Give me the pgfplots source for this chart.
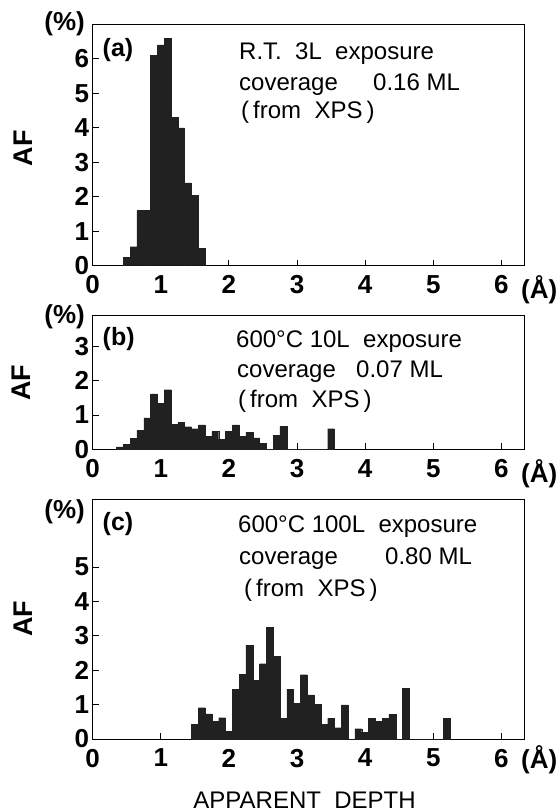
\documentclass[border=0pt]{standalone}
\usepackage{pgfplots}
\pgfplotsset{compat=1.18}
\usepackage{fontspec}
\setmainfont{Liberation Sans}

\newcommand{\tk}{\fontsize{26}{28}\selectfont\bfseries}
\newcommand{\an}{\fontsize{24}{26}\selectfont}

\pgfplotsset{
  panel/.style={
    scale only axis, anchor=south west, width=431.8pt,
    xmin=0, xmax=6.34, ymin=0,
    xtick={0,1,...,6},
    tick align=inside, tick pos=left,
    major tick length=6pt,
    axis line style={line width=1pt},
    every tick/.style={black, line width=1pt},
    ticklabel style={font=\tk},
    /pgf/number format/assume math mode=true,
    xticklabel style={yshift=-6.5pt},
  },
  bars/.style={ybar interval, fill=black!87, draw=black!87, line width=0.3pt},
}

\begin{document}
\begin{tikzpicture}
\useasboundingbox (0,0) rectangle (560pt,812pt);

% (a) R.T. 3L
\begin{axis}[panel, at={(92.7pt,546.3pt)}, height=241.4pt, ymax=7, ytick={0,...,6}]
\addplot[bars] coordinates {
(0.45,0.25) (0.55,0.55) (0.65,1.6) (0.75,1.6) (0.85,6.1) (0.95,6.4)
(1.05,6.6) (1.15,4.3) (1.25,4.0) (1.35,2.4) (1.45,2.05) (1.55,0.5) (1.65,0)
};
\end{axis}

% (b) 600C 10L
\begin{axis}[panel, at={(92.7pt,362.7pt)}, height=133.3pt, ymax=3.89, ytick={0,...,3}]
\addplot[bars] coordinates {
(0.35,0.07) (0.45,0.15) (0.55,0.32) (0.65,0.55) (0.75,0.92) (0.85,1.62)
(0.95,1.34) (1.05,1.74) (1.15,0.72) (1.25,0.79) (1.35,0.66) (1.45,0.60)
(1.55,0.71) (1.65,0.38) (1.75,0.52) (1.85,0.30) (1.95,0.52) (2.05,0.71)
(2.15,0.38) (2.25,0.50) (2.35,0.33) (2.45,0.18) (2.55,0) (2.65,0.40)
(2.75,0.67) (2.85,0) (2.95,0) (3.05,0) (3.15,0) (3.25,0) (3.35,0)
(3.45,0.60) (3.55,0)
};
\end{axis}

% (c) 600C 100L
\begin{axis}[panel, at={(92.7pt,73pt)}, height=239pt, ymax=6.95, ytick={0,...,5}]
\addplot[bars] coordinates {
(1.45,0.43) (1.55,0.91) (1.65,0.73) (1.75,0.52) (1.85,0.62) (1.95,0.22)
(2.05,1.45) (2.15,1.89) (2.25,2.73) (2.35,1.70) (2.45,2.19) (2.55,3.25)
(2.65,2.40) (2.75,0.60) (2.85,1.45) (2.95,1.04) (3.05,1.87) (3.15,1.28)
(3.25,1.00) (3.35,0.43) (3.45,0.60) (3.55,0.33) (3.65,0.99) (3.75,0)
(3.85,0.30) (3.95,0.20) (4.05,0.60) (4.15,0.51) (4.25,0.60) (4.35,0.72)
(4.45,0) (4.55,1.47) (4.65,0) (4.75,0) (4.85,0) (4.95,0) (5.05,0)
(5.15,0.60) (5.25,0)
};
\end{axis}

\begin{scope}[every node/.style={inner sep=0pt}]
% labels for (a)
\node[anchor=east, font=\tk] at (85pt,788pt) {(\%)};
\node[anchor=base west, font=\fontsize{25}{27}\selectfont\bfseries] at (102.5pt,755pt) {(a)};
\node[anchor=base west, font=\an] at (239pt,752.9pt) {R.T.\ \ 3L\ \ exposure};
\node[anchor=base west, font=\an] at (239pt,721.6pt) {coverage};
\node[anchor=base west, font=\an] at (373pt,721.6pt) {0.16 ML};
\node[anchor=base west, font=\an] at (241pt,693.1pt) {(\,from\ \ XPS\,)};
\node[rotate=90, font=\fontsize{27}{27}\selectfont\bfseries] at (23pt,663.5pt) {AF};
\node[anchor=west, font=\tk] at (521pt,522.5pt) {(Å)};

% labels for (b)
\node[anchor=east, font=\tk] at (85pt,495pt) {(\%)};
\node[anchor=base west, font=\fontsize{25}{27}\selectfont\bfseries] at (102.5pt,466pt) {(b)};
\node[anchor=base west, font=\an] at (236pt,464.5pt) {600°C 10L\ \ exposure};
\node[anchor=base west, font=\an] at (237pt,434pt) {coverage};
\node[anchor=base west, font=\an] at (356pt,434pt) {0.07 ML};
\node[anchor=base west, font=\an] at (238pt,404.5pt) {(\,from\ \ XPS\,)};
\node[rotate=90, font=\fontsize{27}{27}\selectfont\bfseries] at (21pt,429pt) {AF};
\node[anchor=west, font=\tk] at (521pt,338.5pt) {(Å)};

% labels for (c)
\node[anchor=east, font=\tk] at (85pt,300pt) {(\%)};
\node[anchor=base west, font=\fontsize{25}{27}\selectfont\bfseries] at (102.5pt,281pt) {(c)};
\node[anchor=base west, font=\an] at (238pt,279.7pt) {600°C 100L\ \ exposure};
\node[anchor=base west, font=\an] at (239pt,247.3pt) {coverage};
\node[anchor=base west, font=\an] at (385pt,247.3pt) {0.80 ML};
\node[anchor=base west, font=\an] at (244pt,215pt) {(\,from\ \ XPS\,)};
\node[rotate=90, font=\fontsize{27}{27}\selectfont\bfseries] at (23pt,193pt) {AF};
\node[anchor=west, font=\tk] at (521pt,52.5pt) {(Å)};

\node[font=\an] at (304.6pt,12pt) {APPARENT\ \ DEPTH};
\end{scope}
\end{tikzpicture}
\end{document}
